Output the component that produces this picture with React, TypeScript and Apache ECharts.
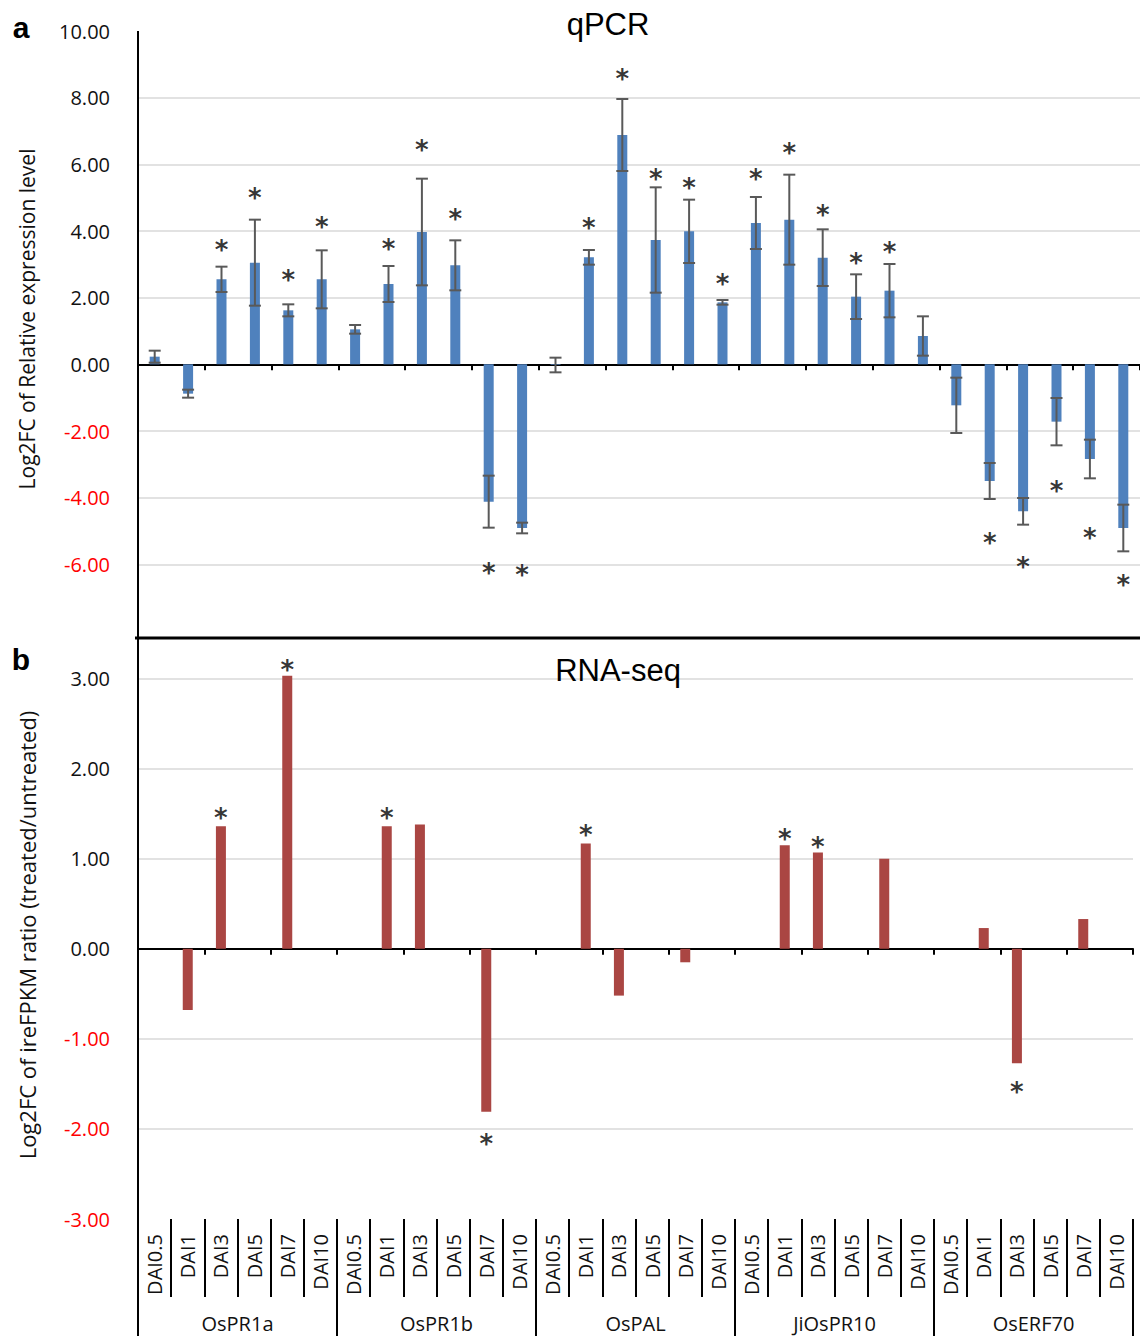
import React, { useEffect, useRef } from 'react';
import * as echarts from 'echarts';

const genes = ['OsPR1a', 'OsPR1b', 'OsPAL', 'JiOsPR10', 'OsERF70'];
const timePoints = ['DAI0.5', 'DAI1', 'DAI3', 'DAI5', 'DAI7', 'DAI10'];
const categories = genes.flatMap(() => timePoints);

// qPCR: Log2FC of relative expression level (mean and error)
const qpcrMean = [
  0.23, -0.88, 2.55, 3.05, 1.62, 2.55,
  1.05, 2.41, 3.97, 2.97, -4.12, -4.91,
  -0.02, 3.21, 6.88, 3.73, 3.99, 1.86,
  4.24, 4.34, 3.2, 2.03, 2.21, 0.85,
  -1.23, -3.5, -4.41, -1.72, -2.84, -4.91,
];
const qpcrErr = [
  0.18, 0.12, 0.38, 1.29, 0.18, 0.87,
  0.13, 0.54, 1.6, 0.75, 0.78, 0.16,
  0.22, 0.22, 1.08, 1.58, 0.95, 0.07,
  0.78, 1.35, 0.85, 0.67, 0.8, 0.59,
  0.83, 0.54, 0.4, 0.71, 0.58, 0.7,
];
// position (value units) of significance asterisks, null = not significant
const qpcrStar = [
  null, null, 3.6, 5.18, 2.71, 4.31,
  null, 3.65, 6.61, 4.53, -6.07, -6.15,
  null, 4.28, 8.74, 5.73, 5.47, 2.58,
  5.73, 6.51, 4.65, 3.23, 3.55, null,
  null, -5.19, -5.9, -3.62, -5.02, -6.45,
];

// RNA-seq: Log2FC of ireFPKM ratio
const rnaValues = [
  0, -0.68, 1.36, 0, 3.03, 0,
  0, 1.36, 1.38, 0, -1.81, 0,
  0, 1.17, -0.52, 0, -0.15, 0,
  0, 1.15, 1.07, 0, 1.0, 0,
  0, 0.23, -1.27, 0, 0.33, 0,
];
const rnaStar = [
  null, null, 1.52, null, 3.16, null,
  null, 1.52, null, null, -2.1, null,
  null, 1.33, null, null, null, null,
  null, 1.29, 1.2, null, null, null,
  null, null, -1.52, null, null, null,
];

const qpcrTicks = { min: -8, max: 10, interval: 2 };
const rnaTicks = { min: -3, max: 3.45, interval: 1 };

const FONT = 'Open Sans';

export default function App() {
  const ref = useRef<HTMLDivElement>(null);
  useEffect(() => {
    document.body.style.margin = '0';
    if (!ref.current) return;
    const chart = echarts.init(ref.current, undefined, { renderer: 'svg' });

    const tickLabel = (lowest: number) => ({
      fontFamily: FONT,
      fontSize: 20,
      margin: 28,
      color: (v: any) => (Number(v) < 0 ? '#FF0000' : '#111111'),
      formatter: (v: number) => (Number.isInteger(v) && v > lowest ? v.toFixed(2) : ''),
    });
    const split = { show: true, showMinLine: false, showMaxLine: false, lineStyle: { color: '#D9D9D9', width: 1.5 } };

    const starData = (arr: (number | null)[]) =>
      arr.map((v, i) => (v === null ? null : [i, v])).filter((d) => d !== null);

    const starSeries = (arr: (number | null)[], xi: number, yi: number) => ({
      type: 'scatter',
      xAxisIndex: xi,
      yAxisIndex: yi,
      data: starData(arr),
      symbolSize: 1,
      itemStyle: { color: 'transparent' },
      label: {
        show: true,
        position: 'inside',
        formatter: '*',
        fontFamily: 'DejaVu Sans',
        fontWeight: 'bold',
        fontSize: 26,
        color: '#000',
        offset: [0, 6],
      },
      z: 5,
    });

    const errData = qpcrMean.map((m, i) => [i, m, qpcrErr[i]]);

    chart.setOption({
      animation: false,
      grid: [
        { left: 138, top: 31, width: 1003, height: 600 },
        { left: 138, top: 638, width: 995, height: 581 },
      ],
      xAxis: [
        {
          type: 'category', gridIndex: 0, data: categories, position: 'bottom',
          axisLine: { show: true, onZero: true, lineStyle: { color: '#000', width: 2 } },
          axisTick: { show: true, length: 6, lineStyle: { color: '#000', width: 2 } },
          axisLabel: { show: false },
        },
        {
          type: 'category', gridIndex: 1, data: categories, position: 'bottom',
          axisLine: { show: true, onZero: true, lineStyle: { color: '#000', width: 2 } },
          axisTick: { show: true, length: 6, lineStyle: { color: '#000', width: 2 } },
          axisLabel: { show: false },
        },
        {
          type: 'category', gridIndex: 1, data: categories, position: 'bottom',
          axisLine: { show: false, onZero: false },
          axisTick: { show: true, length: 78, lineStyle: { color: '#000', width: 2 } },
          axisLabel: { show: true, rotate: 90, margin: 15, interval: 0, fontFamily: FONT, fontSize: 20, color: '#111' },
        },
        {
          type: 'category', gridIndex: 1, data: genes, position: 'bottom',
          axisLine: { show: false, onZero: false },
          axisTick: { show: true, length: 125, lineStyle: { color: '#000', width: 2 } },
          axisLabel: { show: true, margin: 104, verticalAlign: 'middle', interval: 0, fontFamily: FONT, fontSize: 20, color: '#111' },
        },
      ],
      yAxis: [
        {
          type: 'value', gridIndex: 0, ...qpcrTicks,
          axisLine: { show: false }, axisTick: { show: false },
          axisLabel: tickLabel(qpcrTicks.min), splitLine: split,
        },
        {
          type: 'value', gridIndex: 1, ...rnaTicks,
          axisLine: { show: false }, axisTick: { show: false },
          axisLabel: tickLabel(rnaTicks.min - 1), splitLine: split,
        },
      ],
      series: [
        {
          type: 'bar', xAxisIndex: 0, yAxisIndex: 0, data: qpcrMean,
          barWidth: 10, itemStyle: { color: '#4F81BD' },
        },
        {
          type: 'custom', xAxisIndex: 0, yAxisIndex: 0, data: errData,
          encode: { x: 0, y: 1 }, z: 4,
          renderItem: (params: any, api: any) => {
            const i = api.value(0);
            const m = api.value(1);
            const e = api.value(2);
            const hi = api.coord([i, m + e]);
            const lo = api.coord([i, m - e]);
            const x = hi[0];
            const h = 6;
            const style = { stroke: '#595959', lineWidth: 2 };
            return {
              type: 'group',
              children: [
                { type: 'line', shape: { x1: x, y1: hi[1], x2: x, y2: lo[1] }, style },
                { type: 'line', shape: { x1: x - h, y1: hi[1], x2: x + h, y2: hi[1] }, style },
                { type: 'line', shape: { x1: x - h, y1: lo[1], x2: x + h, y2: lo[1] }, style },
              ],
            };
          },
        },
        starSeries(qpcrStar, 0, 0),
        {
          type: 'bar', xAxisIndex: 1, yAxisIndex: 1, data: rnaValues,
          barWidth: 10, itemStyle: { color: '#AA4643' },
        },
        starSeries(rnaStar, 1, 1),
      ],
      graphic: [
        { type: 'line', shape: { x1: 138, y1: 31, x2: 138, y2: 1336 }, style: { stroke: '#000', lineWidth: 2 }, z: 10 },
        { type: 'line', shape: { x1: 135, y1: 638, x2: 1140, y2: 638 }, style: { stroke: '#000', lineWidth: 3 }, z: 10 },
        { type: 'text', x: 21, y: 27, style: { text: 'a', fontFamily: 'Liberation Sans', fontWeight: 'bold', fontSize: 30, fill: '#000', align: 'center', verticalAlign: 'middle' } },
        { type: 'text', x: 21, y: 659, style: { text: 'b', fontFamily: 'Liberation Sans', fontWeight: 'bold', fontSize: 30, fill: '#000', align: 'center', verticalAlign: 'middle' } },
        { type: 'text', x: 608, y: 24, style: { text: 'qPCR', fontFamily: 'Liberation Sans', fontSize: 31, fill: '#000', align: 'center', verticalAlign: 'middle' }, z: 12 },
        { type: 'text', x: 618, y: 670, style: { text: 'RNA-seq', fontFamily: 'Liberation Sans', fontSize: 31, fill: '#000', align: 'center', verticalAlign: 'middle' }, z: 12 },
        { type: 'text', x: 27, y: 319, rotation: Math.PI / 2, style: { text: 'Log2FC of Relative expression level', fontFamily: FONT, fontSize: 21, fill: '#111', align: 'center', verticalAlign: 'middle' } },
        { type: 'text', x: 27, y: 935, rotation: Math.PI / 2, style: { text: 'Log2FC of ireFPKM ratio (treated/untreated)', fontFamily: FONT, fontSize: 22, fill: '#111', align: 'center', verticalAlign: 'middle' } },
      ],
    });
    return () => chart.dispose();
  }, []);
  return <div ref={ref} style={{ width: 1140, height: 1336 }} />;
}
